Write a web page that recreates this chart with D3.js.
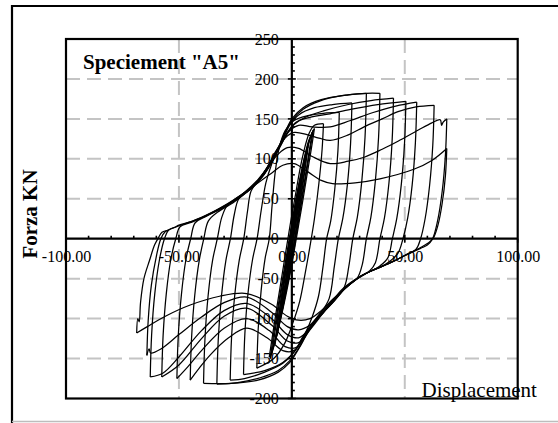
<!DOCTYPE html>
<html>
<head>
<meta charset="utf-8">
<script src="https://cdn.jsdelivr.net/npm/d3@7"></script>
<style>
  html, body { margin: 0; padding: 0; background: #fff; }
  svg { display: block; }
  text { font-family: "Liberation Serif", "Times New Roman", serif; }
</style>
</head>
<body>
<svg id="chart" width="558" height="423"></svg>
<script>
// Axis ticks
const xTicks = [-100, -50, 0, 50, 100];
const yTicks = [-200, -150, -100, -50, 0, 50, 100, 150, 200, 250];
const xGrid = [-50, 50];
const yGrid = [-150, -100, -50, 50, 100, 150, 200];

// Force–displacement record, one array per half cycle: [displacement mm, force kN]
const push01 = [[0,0],[1,20],[2,40],[3,55]];
const pull01 = [[3,55],[2,33],[0.5,5],[-1,-20],[-2,-42],[-3,-62]];
const push01b = [[-3,-62],[-1.8,-36],[-0.4,-6],[1.2,24],[2.6,48],[4,70]];
const pull01b = [[4,70],[2.8,46],[1.2,14],[-0.4,-18],[-2,-48],[-4,-78]];
const push02 = [[-4,-78],[-2.8,-52],[-1.2,-18],[0.5,15],[2,40],[3.5,65],[5,88]];
const pull02 = [[5,88],[3.8,60],[2,25],[0,-10],[-1.5,-35],[-3,-60],[-5,-95]];
const push02b = [[-5,-95],[-3.8,-65],[-2.2,-30],[-0.6,5],[1.2,38],[3.2,68],[5.5,95]];
const pull02b = [[5.5,95],[4.2,66],[2.4,30],[0.4,-6],[-1.4,-38],[-3.4,-70],[-5.5,-100]];
const push03 = [[-5.5,-100],[-4.3,-72],[-2.8,-40],[-1.2,-6],[0.8,28],[3,60],[5,88],[7,115]];
const pull03 = [[7,115],[5.5,85],[3.5,45],[1.5,5],[-0.5,-30],[-2.5,-60],[-4.5,-90],[-7,-125]];
const push03b = [[-7,-125],[-5.8,-96],[-4,-62],[-2,-26],[0,8],[2,42],[4.2,75],[6,100],[7.5,122]];
const pull03b = [[7.5,122],[6.2,94],[4.4,58],[2.4,20],[0.4,-16],[-1.8,-52],[-4,-86],[-6,-112],[-7.5,-132]];
const push04 = [[-7.5,-132],[-6.2,-104],[-4.6,-72],[-2.6,-36],[-0.6,0],[1.4,35],[3.4,65],[5.5,95],[7.5,120],[9.5,136]];
const pull04 = [[9.5,136],[8,110],[6,75],[4,40],[2,5],[0,-30],[-2.5,-65],[-5,-100],[-7.5,-130],[-9.6,-150]];
const push04b = [[-9.6,-150],[-8.2,-122],[-6.4,-90],[-4.2,-52],[-2.2,-18],[-0.2,16],[2,52],[4.2,84],[6.5,112],[9,133]];
const pull04b = [[9,133],[7.6,108],[5.6,72],[3.4,34],[1.2,-2],[-1,-38],[-3.6,-75],[-6.2,-110],[-9,-145]];
const push04c = [[-9,-145],[-7.4,-115],[-5.4,-78],[-3.2,-40],[-1.2,-6],[0.8,28],[3,64],[5.2,96],[7.6,124],[10,138]];
const pull04c = [[10,138],[8.6,112],[6.6,78],[4.4,40],[2.2,4],[0,-32],[-2.6,-70],[-5.4,-106],[-8.2,-136],[-10,-148]];
const push05 = [[-10,-148],[-8.4,-118],[-6.6,-85],[-4.6,-50],[-2.6,-15],[-0.6,20],[1.6,55],[3.8,90],[5.8,115],[7.8,133],[10,142],[14,144]];
const pull05 = [[14,144],[13.4,112],[12,70],[10,25],[8,-10],[5.8,-45],[3.5,-78],[0.5,-105],[-3,-130],[-8,-150],[-15.5,-162]];
const push06 = [[-15.5,-162],[-14.9,-113],[-13.6,-65],[-11.8,-24],[-10,0],[-8.8,40],[-7.3,85],[-5.5,115],[-3,135],[1,148],[7,154],[14,157],[21,158]];
const pull06 = [[21,158],[20.4,110],[19,62],[17.2,22],[15.4,0],[13.8,-35],[11.8,-72],[9,-98],[6,-118],[2,-138],[-4,-155],[-12,-165],[-21.4,-170]];
const push07 = [[-21.4,-170],[-20.8,-119],[-19.4,-68],[-17.4,-26],[-15.4,0],[-13.6,35],[-11.5,70],[-9,93],[-6.5,110],[-3.5,128],[-0.5,144],[3,155],[10,164],[18,168],[26.6,170]];
const pull07 = [[26.6,170],[26,119],[24.6,68],[22.6,26],[20.6,0],[18.8,-35],[16.5,-75],[13,-92],[9,-106],[5,-122],[1,-142],[-4,-156],[-12,-167],[-21,-175],[-27.3,-177]];
const push08 = [[-27.3,-177],[-26.7,-124],[-25.3,-71],[-23.3,-27],[-21.3,0],[-19.6,35],[-18,60],[-14,76],[-10,93],[-6,113],[-3,132],[0,148],[5,162],[12,172],[22,179],[33,182]];
const pull08 = [[33,182],[32.4,127],[31,73],[29,27],[27,0],[25.2,-35],[23.3,-60],[19,-77],[15,-89],[11,-101],[7,-117],[3,-137],[-1,-153],[-6,-165],[-14,-174],[-24,-180],[-33.2,-182]];
const push09 = [[-33.2,-182],[-32.6,-127],[-31.2,-73],[-29.2,-27],[-27.2,0],[-25.5,30],[-23.5,50],[-19,62],[-14,76],[-10,94],[-6,114],[-3,133],[0,150],[5,164],[13,174],[25,180],[33,182],[39,182]];
const pull09 = [[39,182],[38.4,127],[37,73],[35,27],[33,0],[31.2,-32],[29,-49],[24,-61],[19,-77],[15,-89],[11,-102],[7,-118],[3,-138],[-1,-155],[-6,-167],[-15,-177],[-27,-181],[-39.1,-181]];
const push10 = [[-39.1,-181],[-38.5,-127],[-37.1,-72],[-35.1,-27],[-33,0],[-31,27],[-28.5,42],[-24,50],[-18,63],[-13,78],[-9,96],[-5,116],[-2,132],[1,143],[6,152],[14,160],[25,168],[35,173],[45,176]];
const pull10 = [[45,176],[44.4,123],[43,70],[41,26],[39,0],[37,-30],[34.5,-40],[28,-51],[22,-64],[17,-82],[13,-95],[9,-108],[5,-124],[1,-140],[-4,-140],[-11,-124],[-20,-112],[-28,-124],[-36,-145],[-41,-162],[-45,-177]];
const push11 = [[-45,-177],[-44.4,-124],[-43,-71],[-41,-27],[-39,0],[-37,22],[-33,33],[-26,45],[-20,58],[-15,71],[-10,90],[-6,112],[-2,133],[2,146],[8,152],[16,156],[26,162],[38,168],[50.5,172]];
const pull11 = [[50.5,172],[49.9,120],[48.5,69],[46.5,26],[44.5,0],[42.5,-24],[39,-34],[32,-45],[25,-58],[19,-76],[14,-92],[10,-104],[6,-120],[2,-136],[-3,-135],[-10,-115],[-20,-100],[-30,-112],[-40,-140],[-46,-160],[-50.9,-175]];
const push12 = [[-50.9,-175],[-50.3,-122],[-48.9,-70],[-46.9,-26],[-44.8,0],[-42.8,20],[-38,28],[-31,38],[-24,50],[-18,63],[-13,78],[-9,96],[-5,117],[-1,135],[3,142],[9,140],[17,140],[26,148],[36,158],[46,166],[55.3,171]];
const pull12 = [[55.3,171],[54.7,120],[53.3,68],[51.3,26],[49.2,0],[47,-18],[43,-29],[37,-38],[31,-46],[24,-61],[18,-78],[13,-96],[8,-114],[3,-130],[-2,-128],[-9,-108],[-20,-87],[-30,-97],[-40,-125],[-50,-158],[-57.6,-173]];
const push13 = [[-57.6,-173],[-57,-121],[-55.6,-69],[-53.6,-26],[-51.4,0],[-49.5,15],[-45,20],[-40,26],[-32,38],[-25,50],[-18,64],[-12,84],[-7,110],[-3,126],[1,133],[7,130],[12,126],[17,123],[25,130],[32,140],[40,150],[47,159],[55,165],[63,167]];
const pull13 = [[63,167],[62.4,117],[61,67],[59,25],[57,0],[55,-13],[50,-21],[43,-31],[37,-38],[31,-46],[24,-61],[18,-78],[13,-94],[8,-112],[3,-124],[-2,-120],[-9,-100],[-20,-81],[-30,-90],[-40,-115],[-50,-148],[-57,-168],[-62.7,-173]];
const push14 = [[-62.7,-173],[-62.1,-121],[-60.7,-69],[-58.6,-26],[-56.4,0],[-54.5,11],[-51,15],[-45,21],[-37,30],[-29,42],[-21,58],[-15,74],[-10,92],[-6,106],[-2,114],[3,113],[9,103],[17,94],[25,97],[32,102],[40,112],[47,122],[56,136],[62,145],[65.7,149],[66.3,142],[67,146],[68.6,150]];
const pull14 = [[68.6,150],[68,105],[66.6,60],[64.5,22],[62.3,0],[60,-8],[57,-12],[50,-21],[43,-31],[37,-38],[31,-46],[24,-61],[18,-78],[13,-92],[8,-108],[3,-114],[-2,-110],[-9,-92],[-20,-73],[-30,-80],[-40,-98],[-50,-120],[-58,-138],[-62.5,-143],[-63.2,-138],[-64.2,-146]];
const push15 = [[-64.2,-146],[-63.6,-102],[-62.2,-58],[-60,-22],[-58,0],[-56,9],[-52,14],[-50,17],[-44,22],[-36,32],[-28,44],[-20,60],[-14,72],[-9,82],[-4,92],[1,94],[7,84],[13,73],[18,69],[28,70],[39,75],[54,87],[62,98],[68.6,113]];
const pull15 = [[68.6,113],[68,79],[66.6,45],[64.7,17],[62.5,0],[60,-6],[57,-11],[50,-21],[43,-31],[37,-38],[31,-46],[24,-61],[18,-76],[13,-90],[8,-100],[3,-102],[-2,-97],[-9,-82],[-20,-68.6],[-32,-72],[-45,-83],[-56,-97],[-64,-110],[-68.7,-118]];
const push16 = [[-68.7,-118],[-68.2,-100],[-67.6,-104],[-67,-80],[-65.5,-50],[-63,-27],[-60.8,-8],[-59.3,0],[-57.5,8],[-55,10.5]];

const record = [push01, pull01, push01b, pull01b, push02, pull02, push02b, pull02b, push03, pull03,
                push03b, pull03b, push04, pull04, push04b, pull04b, push04c, pull04c, push05, pull05,
                push06, pull06, push07, pull07, push08, pull08, push09, pull09, push10, pull10,
                push11, pull11, push12, pull12, push13, pull13, push14, pull14, push15, pull15, push16];

const svg = d3.select("#chart");
const W = 558, H = 423;
const plot = { left: 66, right: 517.7, top: 39, bottom: 398.5 };

const x = d3.scaleLinear().domain([-100, 100]).range([plot.left, plot.right]);
const y = d3.scaleLinear().domain([-200, 250]).range([plot.bottom, plot.top]);

// Outer frame
svg.append("line").attr("x1", 12).attr("x2", W).attr("y1", 6).attr("y2", 6)
  .attr("stroke", "#000").attr("stroke-width", 2);
svg.append("line").attr("x1", 12).attr("x2", 12).attr("y1", 5).attr("y2", H)
  .attr("stroke", "#000").attr("stroke-width", 2.2);
svg.append("line").attr("x1", 12).attr("x2", W).attr("y1", 421.5).attr("y2", 421.5)
  .attr("stroke", "#bdbdbd").attr("stroke-width", 1.5);

// Dashed grid
const grid = svg.append("g").attr("stroke", "#c4c4c4").attr("stroke-width", 2)
  .attr("stroke-dasharray", "14,7");
grid.selectAll(".gy").data(yGrid).join("line")
  .attr("x1", plot.left).attr("x2", plot.right)
  .attr("y1", d => y(d)).attr("y2", d => y(d));
grid.selectAll(".gx").data(xGrid).join("line")
  .attr("y1", plot.top).attr("y2", plot.bottom)
  .attr("x1", d => x(d)).attr("x2", d => x(d));

// Tick labels on the axes through the origin
const yAxis = d3.axisLeft(y).tickValues(yTicks).tickSize(0).tickPadding(13)
  .tickFormat(d => String(d));
svg.append("g").attr("transform", `translate(${x(0)},0)`).call(yAxis)
  .call(g => g.select(".domain").remove())
  .selectAll("text").style("font-family", '"Liberation Serif", serif').attr("font-size", 16).attr("fill", "#000");

const xAxis = d3.axisBottom(x).tickValues(xTicks).tickSize(0).tickPadding(12)
  .tickFormat(d => d.toFixed(2));
svg.append("g").attr("transform", `translate(0,${y(0)})`).call(xAxis)
  .call(g => g.select(".domain").remove())
  .selectAll("text").style("font-family", '"Liberation Serif", serif').attr("font-size", 16).attr("fill", "#000");

// Hysteresis curves
const line = d3.line().x(d => x(d[0])).y(d => y(d[1])).curve(d3.curveCatmullRom.alpha(0.5));
svg.append("g").selectAll("path").data(record).join("path")
  .attr("d", line).attr("fill", "none").attr("stroke", "#000").attr("stroke-width", 1.25)
  .attr("stroke-linejoin", "round");

// Axis lines and tick marks
const axes = svg.append("g").attr("stroke", "#000");
axes.append("line").attr("x1", plot.left).attr("x2", plot.right)
  .attr("y1", y(0)).attr("y2", y(0)).attr("stroke-width", 2.2);
axes.append("line").attr("x1", x(0)).attr("x2", x(0))
  .attr("y1", plot.top).attr("y2", plot.bottom).attr("stroke-width", 2.2);
const yMinor = d3.range(-200, 251, 10);
axes.selectAll(".ym").data(yMinor).join("line")
  .attr("x1", x(0)).attr("x2", d => d % 50 === 0 ? x(0) + 4 : x(0) + 3)
  .attr("y1", d => y(d)).attr("y2", d => y(d)).attr("stroke-width", 1.6);
axes.selectAll(".yM").data(yTicks).join("line")
  .attr("x1", x(0) - 4).attr("x2", x(0))
  .attr("y1", d => y(d)).attr("y2", d => y(d)).attr("stroke-width", 1.6);
const xMinor = d3.range(-100, 101, 10);
axes.selectAll(".xm").data(xMinor).join("line")
  .attr("x1", d => x(d)).attr("x2", d => x(d))
  .attr("y1", y(0)).attr("y2", d => d % 50 === 0 ? y(0) + 4 : y(0) - 3)
  .attr("stroke-width", 1.6);
axes.selectAll(".xM").data([-50, 50]).join("line")
  .attr("x1", d => x(d)).attr("x2", d => x(d))
  .attr("y1", y(0) - 4).attr("y2", y(0)).attr("stroke-width", 1.6);

// Plot border
svg.append("rect").attr("x", plot.left).attr("y", plot.top)
  .attr("width", plot.right - plot.left).attr("height", plot.bottom - plot.top)
  .attr("fill", "none").attr("stroke", "#000").attr("stroke-width", 2.2);

// Titles
svg.append("text").attr("x", 83).attr("y", 69)
  .attr("font-weight", "bold").attr("font-size", 21).text('Speciement "A5"');
svg.append("text").attr("x", 421.5).attr("y", 396.5)
  .attr("font-size", 21).text("Displacement");
svg.append("text").attr("transform", "translate(37,214) rotate(-90)")
  .attr("text-anchor", "middle")
  .attr("font-weight", "bold").attr("font-size", 21).text("Forza KN");
</script>
</body>
</html>
